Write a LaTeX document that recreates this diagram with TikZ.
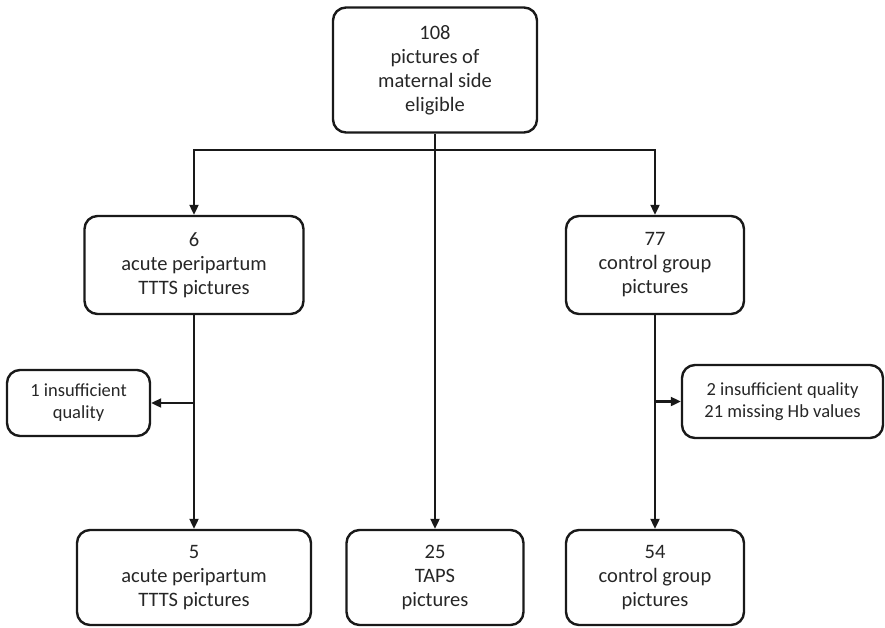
\documentclass[tikz,border=0pt]{standalone}
\usepackage{fontspec}
\setmainfont{Carlito}
\usetikzlibrary{arrows.meta}
\begin{document}
\begin{tikzpicture}[x=1pt, y=-1pt, >={Stealth[length=10pt,width=9pt,inset=0pt]},
  box/.style={draw=black!90, line width=2.4pt, rounded corners=13pt, align=center,
    text=black!85, inner sep=0pt, font=\fontsize{20.5}{24}\selectfont},
  note/.style={box, font=\fontsize{18.5}{22}\selectfont},
  link/.style={->, line width=2.1pt, draw=black!90}]
  \useasboundingbox (0,0) rectangle (885,627);
  \node[box, minimum width=204pt, minimum height=125pt] (elig) at (435,70) {108\\pictures of\\maternal side\\eligible};
  \node[box, minimum width=219pt, minimum height=98pt] (ttts6) at (194,265) {6\\acute peripartum\\TTTS pictures};
  \node[box, minimum width=178pt, minimum height=98pt] (ctrl77) at (655,265) {77\\control group\\pictures};
  \node[note, minimum width=143pt, minimum height=66pt] (excl1) at (78.5,403) {1 insufficient\\quality};
  \node[note, minimum width=201pt, minimum height=73pt] (excl2) at (782.5,401.5) {2 insufficient quality\\21 missing Hb values};
  \node[box, minimum width=234pt, minimum height=95pt] (ttts5) at (194,577.5) {5\\acute peripartum\\TTTS pictures};
  \node[box, minimum width=177pt, minimum height=95pt] (taps) at (435,577.5) {25\\TAPS\\pictures};
  \node[box, minimum width=178pt, minimum height=95pt] (ctrl54) at (655,577.5) {54\\control group\\pictures};
  \coordinate (fork) at (435,150);
  \draw[link] (elig) -- (taps);
  \draw[link] (fork) -| (ttts6);
  \draw[link] (fork) -| (ctrl77);
  \draw[link] (ttts6) -- (ttts5);
  \draw[link] (ctrl77) -- (ctrl54);
  \draw[link] (ttts6.south |- excl1.east) -- (excl1);
  \draw[link] (ctrl77.south |- excl2.west) -- (excl2);
\end{tikzpicture}
\end{document}
